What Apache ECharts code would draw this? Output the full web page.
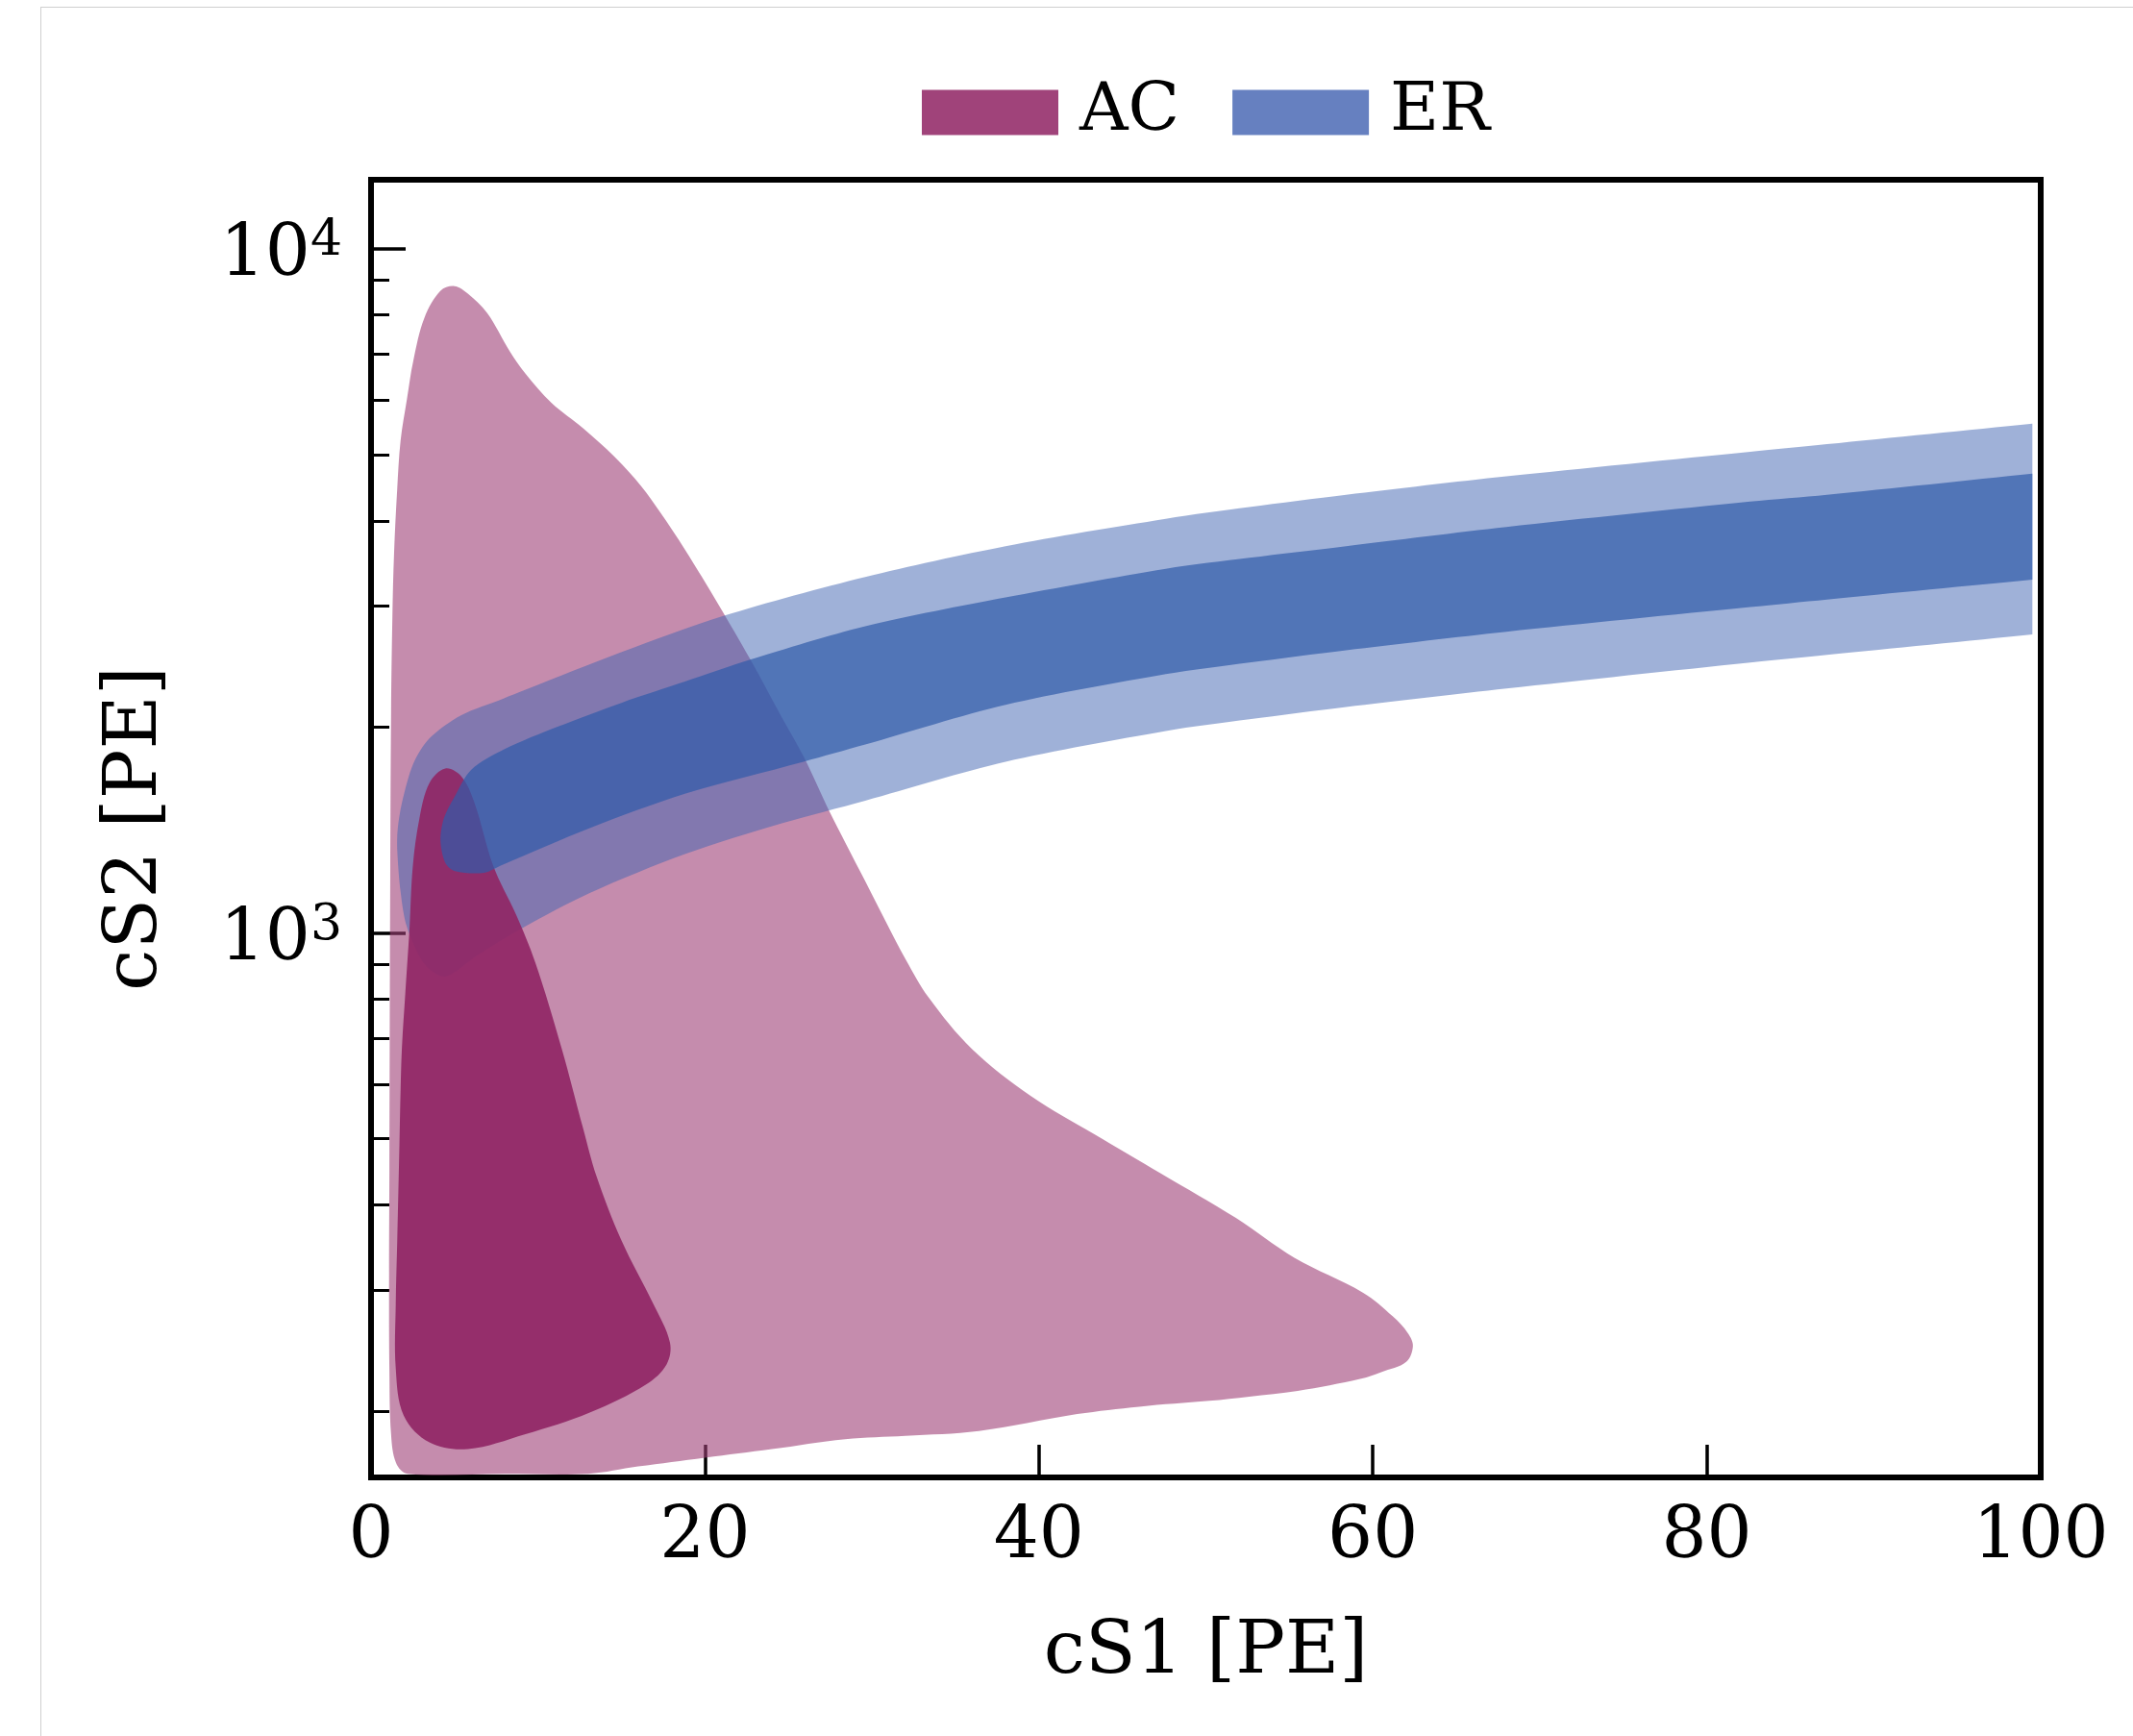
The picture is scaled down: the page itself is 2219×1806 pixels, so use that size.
<!DOCTYPE html>
<html><head><meta charset="utf-8">
<script src="https://cdn.jsdelivr.net/npm/echarts@6/dist/echarts.min.js"></script>
<style>
html,body{margin:0;padding:0;background:#fff;overflow:hidden;width:2219px;height:1806px;}
#frame{position:absolute;left:42px;top:7px;width:2300px;height:1900px;border:1px solid #cfcfcf;box-sizing:border-box;}
#chart{position:absolute;left:0;top:0;width:2219px;height:1806px;}
</style></head><body>
<div id="frame"></div><div id="chart"></div>
<script>
// ---- data (cS1 [PE], cS2 [PE]) ----
const xTicks = [0, 20, 40, 60, 80, 100];
const yMajorTicks = [1000, 10000];
const yMinorTicks = [200, 300, 400, 500, 600, 700, 800, 900, 2000, 3000, 4000, 5000, 6000, 7000, 8000, 9000];
const yRange = [160, 12600];
const legendNames = ['AC', 'ER'];

// AC outer contour (lighter region)
const acOuter = [[2.2,162],[1.5,168],[1.2,185],[1.1,230],[1.08,320],[1.1,450],[1.12,700],[1.15,1200],[1.2,2100],[1.28,2900],[1.38,3590],[1.57,4460],[1.77,5240],[2.15,6020],[2.53,6850],[3.2,7920],[4.16,8670],[5.0,8810],[5.8,8590],[6.95,8050],[8.3,7080],[9.25,6560],[10.8,5950],[12.7,5460],[14.6,4955],[16.2,4487],[17.3,4121],[18.8,3631],[20.8,3020],[22.7,2512],[24.6,2065],[25.9,1811],[27.5,1496],[28.4,1355],[29.6,1189],[30.8,1042],[32.0,916],[33.4,804],[36.0,676],[39.5,578],[43.3,508],[47.3,445],[51.8,383],[55.3,335],[59.4,298],[61.2,275],[62.1,260],[62.4,249],[62.0,236],[60.5,228],[59.3,223],[55.5,214],[52.6,210],[50.2,207],[46,203],[42.3,198],[36.4,187],[32,184],[28.4,182],[24,176],[20,171],[16,166],[13,162],[8,162]];
// AC inner contour (darker region)
const acInner = [[4.45,1738],[3.5,1655],[2.9,1470],[2.5,1250],[2.3,1010],[2.05,814],[1.85,680],[1.77,590],[1.7,490],[1.57,355],[1.48,287],[1.48,231],[1.96,197],[3.5,180],[5.8,176],[9.25,185],[13.1,199],[16.5,219],[17.7,234],[17.9,252],[16.9,287],[15.0,355],[13.5,441],[12.7,518],[11.4,680],[9.83,906],[8.68,1064],[7.33,1251],[6.18,1552],[5.41,1692]];
// ER outer band (upper edge left->right, then lower edge right->left; corners repeated)
const erOuter = [[1.6,1420],[1.86,1552],[2.53,1766],[3.49,1923],[5.41,2080],[7.9,2198],[9.25,2265],[14.98,2570],[21.1,2904],[29.6,3311],[38.0,3673],[47.6,4027],[52.6,4188],[58.4,4365],[68.0,4645],[82.6,5047],[87.2,5176],[99.5,5546],[99.5,5546],[99.5,2729],[99.5,2729],[87.2,2547],[82.6,2483],[68.0,2275],[58.4,2138],[52.6,2051],[47.6,1972],[38.0,1778],[29.6,1560],[24.6,1445],[18.8,1303],[13.1,1143],[9.06,1016],[6.37,927],[4.45,863],[3.2,900],[2.15,1020],[1.77,1148],[1.57,1321]];
// ER inner band
const erInner = [[4.16,1364],[4.36,1469],[5.03,1585],[5.99,1730],[8.0,1855],[11.17,2000],[15.0,2168],[18.8,2328],[22.7,2506],[29.6,2805],[38.0,3090],[47.6,3404],[52.6,3532],[58.4,3673],[68.0,3917],[82.6,4266],[87.2,4365],[99.5,4688],[99.5,4688],[99.5,3281],[99.5,3281],[87.2,3069],[82.6,2992],[68.0,2754],[58.4,2588],[52.6,2483],[47.6,2388],[38.0,2153],[29.6,1884],[25.9,1778],[18.8,1596],[13.1,1422],[7.9,1258],[6.76,1224],[5.03,1231],[4.45,1265]];

// ---- chart ----
const FONT = 'DejaVu Serif';
const lg = v => Math.log10(v);

function polySeries(name, pts, fill, smooth) {
  const d = pts.map(p => [p[0], lg(p[1])]);
  return {
    type: 'custom', name: name, coordinateSystem: 'cartesian2d',
    xAxisIndex: 0, yAxisIndex: 0,
    data: d, silent: true,
    itemStyle: {color: fill},
    renderItem: function (params, api) {
      if (params.dataIndex !== 0) return null;
      const points = d.map(p => api.coord(p));
      return {type: 'polygon', shape: {points: points, smooth: smooth}, style: {fill: fill, stroke: null}};
    }
  };
}

const chart = echarts.init(document.getElementById('chart'), null, {renderer: 'canvas'});
chart.setOption({
  animation: false,
  backgroundColor: 'transparent',
  grid: {left: 386, right: 96, top: 187, bottom: 269, show: true, borderColor: '#000', borderWidth: 6, backgroundColor: 'transparent'},
  legend: {
    left: 954, top: 77, itemWidth: 142, itemHeight: 47, itemGap: 55, icon: 'rect', selectedMode: false,
    data: [
      {name: legendNames[0], itemStyle: {color: '#a0437a', opacity: 1}},
      {name: legendNames[1], itemStyle: {color: '#6680c0', opacity: 1}}
    ],
    textStyle: {fontFamily: FONT, fontSize: 70, color: '#000', padding: [0, 0, 0, 17]}
  },
  xAxis: {
    type: 'value', min: xTicks[0], max: xTicks[xTicks.length - 1], interval: 20,
    axisLine: {show: false},
    axisTick: {inside: true, length: 34, lineStyle: {color: '#000', width: 3.5}},
    axisLabel: {margin: 27, fontSize: 74, fontFamily: FONT, color: '#000', showMinLabel: true, showMaxLabel: true},
    splitLine: {show: false},
    name: 'cS1 [PE]', nameLocation: 'middle', nameGap: 144,
    nameTextStyle: {fontSize: 77, fontFamily: FONT, color: '#000'}
  },
  yAxis: [{
    type: 'value', min: lg(yRange[0]), max: lg(yRange[1]), position: 'left',
    axisLine: {show: false},
    axisTick: {inside: true, length: 36, customValues: yMajorTicks.map(lg), lineStyle: {color: '#000', width: 3.5}},
    axisLabel: {
      margin: 30, customValues: yMajorTicks.map(lg), padding: [16, 0, 0, 0],
      formatter: v => '{a|10}{b|' + Math.round(v) + '}',
      rich: {
        a: {fontSize: 74, lineHeight: 82, fontFamily: FONT, color: '#000'},
        b: {fontSize: 52, fontFamily: FONT, color: '#000', verticalAlign: 'top'}
      }
    },
    splitLine: {show: false},
    name: 'cS2 [PE]', nameLocation: 'middle', nameGap: 206, nameRotate: 90,
    nameTextStyle: {fontSize: 77, fontFamily: FONT, color: '#000'}
  }, {
    type: 'value', min: lg(yRange[0]), max: lg(yRange[1]), position: 'left',
    axisLine: {show: false},
    axisTick: {inside: true, length: 19, customValues: yMinorTicks.map(lg), lineStyle: {color: '#000', width: 3}},
    axisLabel: {show: false},
    splitLine: {show: false}
  }],
  series: [
    polySeries('AC', acOuter, 'rgba(158,63,118,0.6)', 0.35),
    polySeries('ER', erOuter, 'rgba(63,99,177,0.5)', 0.3),
    polySeries('AC', acInner, 'rgba(145,40,102,0.93)', 0.35),
    polySeries('ER', erInner, 'rgba(49,91,169,0.7)', 0.3)
  ]
});
</script>
</body></html>
